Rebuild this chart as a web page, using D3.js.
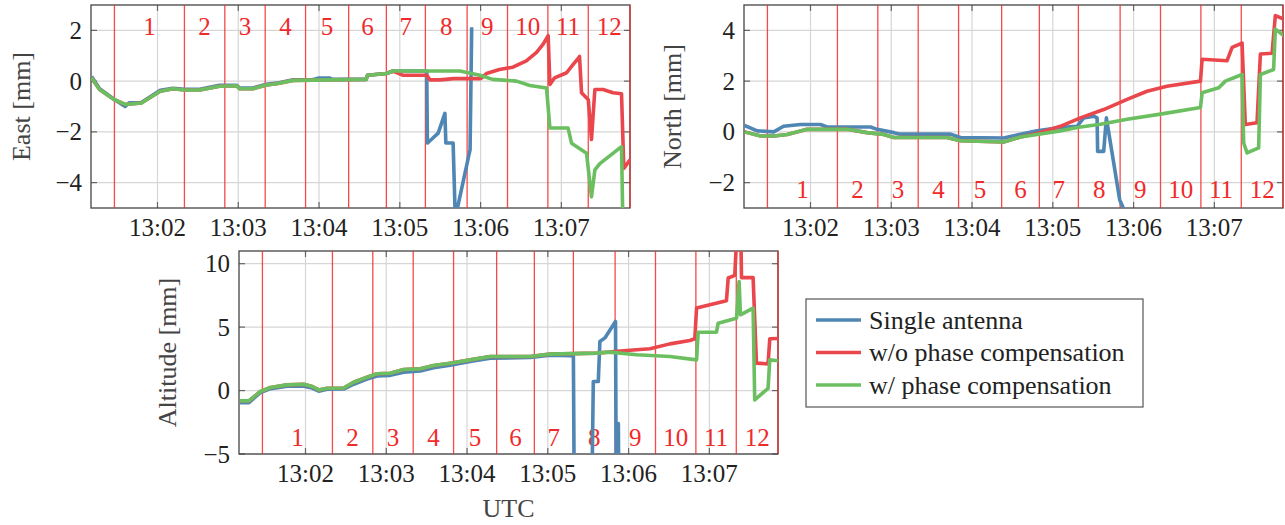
<!DOCTYPE html>
<html>
<head>
<meta charset="utf-8">
<script src="https://cdn.jsdelivr.net/npm/d3@7"></script>
<style>
body { margin: 0; background: #fff; }
</style>
</head>
<body>
<svg id="chart" width="1285" height="525"></svg>
<script>
// times are seconds after 13:00:00, values in mm
var phaseBounds = [88, 140, 170, 200, 230, 262, 290, 319, 350, 380, 410, 440, 471];
var phaseLabels = ["1", "2", "3", "4", "5", "6", "7", "8", "9", "10", "11", "12"];
var seriesNames = ["Single antenna", "w/o phase compensation", "w/ phase compensation"];

// East
var eastSingle = [[71,0.18],[77,-0.3],[88,-0.72],[96,-1.0],[99,-0.85],[108,-0.84],[122,-0.36],[131.5,-0.28],[140,-0.32],[151.5,-0.32],[166,-0.16],[178.8,-0.16],[181,-0.27],[191,-0.27],[201,-0.12],[208.5,-0.08],[220.7,0.05],[235,0.05],[240,0.12],[248,0.12],[250,0.07],[275,0.07],[276,0.23],[290,0.3],[295,0.4],[320,0.4],[320.5,-2.44],[322.4,-2.35],[328.5,-2.05],[333.5,-1.27],[334.2,-2.44],[339.6,-2.44],[341.2,-5.4],[352.2,-2.7],[353.4,2.12]];
var eastNoComp = [[71,0.13],[77,-0.33],[88,-0.73],[96,-0.92],[108,-0.86],[122,-0.4],[131.5,-0.3],[140,-0.35],[151.5,-0.35],[166,-0.2],[178.8,-0.18],[181,-0.3],[191,-0.3],[201,-0.15],[208.5,-0.1],[220.7,0.03],[248.5,0.05],[275,0.07],[276,0.23],[290,0.3],[295,0.4],[302.5,0.23],[320,0.23],[322.4,0.05],[330,0.05],[340,0.1],[360,0.1],[364.4,0.3],[374,0.46],[384,0.55],[394,0.8],[401.6,1.13],[406.5,1.46],[410.2,1.79],[411.5,-0.13],[415,0.13],[423.9,0.33],[428.8,0.66],[432.5,0.9],[433.5,0.97],[435,-0.46],[440,-0.73],[442.4,-2.3],[444.9,-0.33],[451,-0.33],[458.4,-0.46],[464.7,-0.5],[466.4,-3.44],[471,-3.1]];
var eastComp = [[71,0.13],[77,-0.33],[88,-0.73],[96,-0.92],[108,-0.86],[122,-0.4],[131.5,-0.3],[140,-0.35],[151.5,-0.35],[166,-0.2],[178.8,-0.18],[181,-0.3],[191,-0.3],[201,-0.15],[208.5,-0.1],[220.7,0.03],[248.5,0.05],[275,0.07],[276,0.23],[290,0.3],[295,0.4],[344.7,0.4],[359.5,0.23],[369,0.07],[386.7,0],[396.6,-0.17],[409,-0.27],[411.5,-1.85],[425,-1.85],[427.6,-2.45],[438.7,-2.84],[442.4,-4.56],[444.9,-3.5],[448.6,-3.25],[464.7,-2.58],[465.7,-5.6],[471,-5.6]];

// North
var northSingle = [[71,0.25],[80.4,0.04],[92.7,0.0],[100,0.22],[112.6,0.29],[127.4,0.29],[132.4,0.19],[164.6,0.19],[169.5,0.1],[181.9,-0.03],[186.8,-0.09],[224,-0.09],[231.4,-0.22],[263.5,-0.24],[276,-0.09],[288.3,0.04],[305.6,0.17],[318,0.22],[323,0.55],[330.4,0.62],[332.9,0.55],[333.3,-0.77],[337.8,-0.77],[339.8,0.55],[349.7,-2.68],[354,-3.2]];
var northNoComp = [[71,0],[83,-0.16],[93,-0.16],[102.7,-0.1],[117.5,0.1],[147.2,0.1],[162,-0.03],[174.4,-0.1],[181.9,-0.22],[221.5,-0.22],[231.4,-0.35],[263.5,-0.4],[276,-0.2],[288.3,-0.06],[305.6,0.22],[320.5,0.55],[337.8,0.88],[355.2,1.28],[370,1.6],[384.8,1.8],[409.7,2.0],[410.9,2.86],[429.4,2.8],[433.2,3.33],[440.6,3.5],[443,0.29],[451.7,0.36],[454.2,3.07],[462.9,3.1],[465.3,4.58],[471.5,4.45]];
var northComp = [[71,0],[83,-0.16],[93,-0.16],[102.7,-0.1],[117.5,0.1],[147.2,0.1],[162,-0.03],[174.4,-0.1],[181.9,-0.22],[221.5,-0.22],[231.4,-0.35],[263.5,-0.4],[276,-0.2],[288.3,-0.1],[305.6,0.04],[318,0.17],[335.4,0.3],[355.2,0.5],[380,0.7],[409.7,0.96],[410.9,1.54],[423.3,1.74],[428.2,2.0],[440.6,2.26],[441.8,-0.44],[444.3,-0.83],[452.9,-0.63],[454.2,2.26],[464,2.46],[465.3,4.05],[471.5,3.8]];

// Altitude
var altSingle = [[71.3,-0.95],[78,-0.95],[86.6,-0.15],[94,0.15],[106.4,0.35],[118.7,0.35],[125,0.2],[129.9,-0.05],[136,0.1],[148.4,0.12],[155.8,0.5],[165.7,0.9],[173.2,1.15],[183,1.2],[192.9,1.45],[205.3,1.55],[215.2,1.8],[227.5,2.0],[242.4,2.3],[257.2,2.55],[286.9,2.6],[301.7,2.78],[316.6,2.75],[319,2.7],[320,-14],[332,-14],[333.8,0.71],[337.5,0.71],[338.7,3.87],[342.4,4.15],[350.3,5.45],[351,-12],[352.4,-2.6],[353,-12]];
var altNoComp = [[71.3,-0.81],[78,-0.81],[86.6,-0.07],[94,0.24],[106.4,0.45],[118.7,0.5],[125,0.32],[129.9,0.05],[136,0.18],[148.4,0.2],[155.8,0.66],[165.7,1.05],[173.2,1.32],[183,1.37],[192.9,1.66],[205.3,1.71],[215.2,1.97],[227.5,2.16],[242.4,2.42],[257.2,2.68],[286.9,2.68],[301.7,2.87],[336.3,2.95],[358.6,3.16],[375.9,3.29],[390.7,3.68],[405.5,3.95],[409.2,4.08],[410.5,6.5],[420.4,6.76],[432.7,7.08],[434,8.87],[438.9,9.08],[440,11.5],[443.5,11.5],[443.9,8.9],[452.5,8.9],[455,2.16],[463.6,2.1],[464.9,4.08],[471,4.1]];
var altComp = [[71.3,-0.81],[78,-0.81],[86.6,-0.07],[94,0.24],[106.4,0.45],[118.7,0.5],[125,0.32],[129.9,0.05],[136,0.18],[148.4,0.2],[155.8,0.66],[165.7,1.05],[173.2,1.32],[183,1.37],[192.9,1.66],[205.3,1.71],[215.2,1.97],[227.5,2.16],[242.4,2.42],[257.2,2.68],[286.9,2.68],[301.7,2.87],[336.3,2.95],[346.2,3.03],[366,2.82],[390.7,2.68],[410.5,2.42],[411.7,4.6],[425.3,4.6],[426.5,5.3],[440.2,5.7],[442.1,8.6],[443.1,5.97],[452.5,6.5],[453.7,-0.74],[463.6,0.18],[464.9,2.42],[471,2.35]];

var colors = ["#5086b4", "#e9474c", "#6bbf60"];
var xStart = 70.6, xEnd = 471;

var base = new Date(2020, 0, 1, 13, 0, 0);
function toTime(s) { return new Date(base.getTime() + s * 1000); }

// set the serif face on every text node
function serif(sel) {
  return sel.attr("font-family", "Liberation Serif").style("font-family", "'Liberation Serif'");
}

var svg = d3.select("#chart");

var panels = [
  {id: "east", left: 91, top: 5, width: 539, height: 203, yDomain: [-5, 3], yTicks: [-4, -2, 0, 2],
   label: "East [mm]", labelX: 21, phaseY: 21, series: [eastSingle, eastNoComp, eastComp]},
  {id: "north", left: 744, top: 5, width: 539, height: 203, yDomain: [-3, 5], yTicks: [-2, 0, 2, 4],
   label: "North [mm]", labelX: 672, phaseY: 184, series: [northSingle, northNoComp, northComp]},
  {id: "alt", left: 239, top: 251, width: 539, height: 203, yDomain: [-5, 11], yTicks: [-5, 0, 5, 10],
   label: "Altitude [mm]", labelX: 167, phaseY: 186, series: [altSingle, altNoComp, altComp]}
];

panels.forEach(drawPanel);

function drawPanel(cfg) {
  var g = svg.append("g").attr("transform", "translate(" + cfg.left + "," + cfg.top + ")");
  var x = d3.scaleTime().domain([toTime(xStart), toTime(xEnd)]).range([0, cfg.width]);
  var y = d3.scaleLinear().domain(cfg.yDomain).range([cfg.height, 0]);
  var xt = x.ticks(d3.timeMinute.every(1));

  g.append("clipPath").attr("id", "clip-" + cfg.id)
    .append("rect").attr("width", cfg.width).attr("height", cfg.height);

  // grid
  g.selectAll(".gx").data(xt).enter().append("line")
    .attr("x1", function(d) { return x(d); }).attr("x2", function(d) { return x(d); })
    .attr("y1", 0).attr("y2", cfg.height)
    .attr("stroke", "#d6d6d6").attr("stroke-width", 1.2);
  g.selectAll(".gy").data(cfg.yTicks).enter().append("line")
    .attr("x1", 0).attr("x2", cfg.width)
    .attr("y1", function(d) { return y(d); }).attr("y2", function(d) { return y(d); })
    .attr("stroke", "#d6d6d6").attr("stroke-width", 1.2);

  // ticks inward, all four sides
  var tl = 6;
  xt.forEach(function(d) {
    g.append("line").attr("x1", x(d)).attr("x2", x(d)).attr("y1", cfg.height).attr("y2", cfg.height - tl).attr("stroke", "#666").attr("stroke-width", 1.2);
    g.append("line").attr("x1", x(d)).attr("x2", x(d)).attr("y1", 0).attr("y2", tl).attr("stroke", "#666").attr("stroke-width", 1.2);
  });
  cfg.yTicks.forEach(function(d) {
    g.append("line").attr("x1", 0).attr("x2", tl).attr("y1", y(d)).attr("y2", y(d)).attr("stroke", "#666").attr("stroke-width", 1.2);
    g.append("line").attr("x1", cfg.width).attr("x2", cfg.width - tl).attr("y1", y(d)).attr("y2", y(d)).attr("stroke", "#666").attr("stroke-width", 1.2);
  });

  // frame
  g.append("rect").attr("width", cfg.width).attr("height", cfg.height)
    .attr("fill", "none").attr("stroke", "#444").attr("stroke-width", 1.3);

  // phase boundaries
  g.selectAll(".pb").data(phaseBounds).enter().append("line")
    .attr("x1", function(d) { return x(toTime(d)); }).attr("x2", function(d) { return x(toTime(d)); })
    .attr("y1", 0).attr("y2", cfg.height)
    .attr("stroke", "#f52a2a").attr("stroke-opacity", 0.85).attr("stroke-width", 1.3);

  // phase labels
  serif(g.selectAll(".pl").data(phaseLabels).enter().append("text"))
    .attr("x", function(d, i) { return x(toTime((phaseBounds[i] + phaseBounds[i + 1]) / 2)); })
    .attr("y", cfg.phaseY)
    .attr("text-anchor", "middle").attr("dominant-baseline", "central")
    .attr("font-size", 25).attr("fill", "#f02a2a")
    .text(function(d) { return d; });

  // data lines
  var line = d3.line()
    .x(function(d) { return x(toTime(d[0])); })
    .y(function(d) { return y(d[1]); });
  var lines = g.append("g").attr("clip-path", "url(#clip-" + cfg.id + ")");
  cfg.series.forEach(function(s, i) {
    lines.append("path").datum(s)
      .attr("fill", "none").attr("stroke", colors[i]).attr("stroke-width", 3.6)
      .attr("stroke-linejoin", "round")
      .attr("d", line);
  });

  // tick labels
  var fmt = d3.timeFormat("%H:%M");
  serif(g.selectAll(".xl").data(xt).enter().append("text"))
    .attr("x", function(d) { return x(d); }).attr("y", cfg.height + 19)
    .attr("text-anchor", "middle").attr("dominant-baseline", "central")
    .attr("font-size", 25).attr("fill", "#222")
    .text(function(d) { return fmt(d); });
  var yfmt = d3.format("d");
  serif(g.selectAll(".yl").data(cfg.yTicks).enter().append("text"))
    .attr("x", -9).attr("y", function(d) { return y(d); })
    .attr("text-anchor", "end").attr("dominant-baseline", "central")
    .attr("font-size", 25).attr("fill", "#222")
    .text(function(d) { return yfmt(d); });

  // axis label
  serif(svg.append("text"))
    .attr("transform", "translate(" + cfg.labelX + "," + (cfg.top + cfg.height / 2) + ") rotate(-90)")
    .attr("text-anchor", "middle").attr("dominant-baseline", "central")
    .attr("font-size", 26).attr("fill", "#444")
    .text(cfg.label);
}

// UTC label under altitude panel
serif(svg.append("text"))
  .attr("x", 239 + 539 / 2).attr("y", 508)
  .attr("text-anchor", "middle").attr("dominant-baseline", "central")
  .attr("font-size", 26).attr("fill", "#444")
  .text("UTC");

// legend
var lg = svg.append("g").attr("transform", "translate(806,299)");
lg.append("rect").attr("width", 337).attr("height", 108)
  .attr("fill", "#fff").attr("stroke", "#555").attr("stroke-width", 1.2);
seriesNames.forEach(function(name, i) {
  var yy = 21 + i * 32.5;
  lg.append("line").attr("x1", 10).attr("x2", 55).attr("y1", yy).attr("y2", yy)
    .attr("stroke", colors[i]).attr("stroke-width", 3.6);
  serif(lg.append("text")).attr("x", 63).attr("y", yy)
    .attr("dominant-baseline", "central")
    .attr("font-size", 26).attr("fill", "#222")
    .text(name);
});
</script>
</body>
</html>
